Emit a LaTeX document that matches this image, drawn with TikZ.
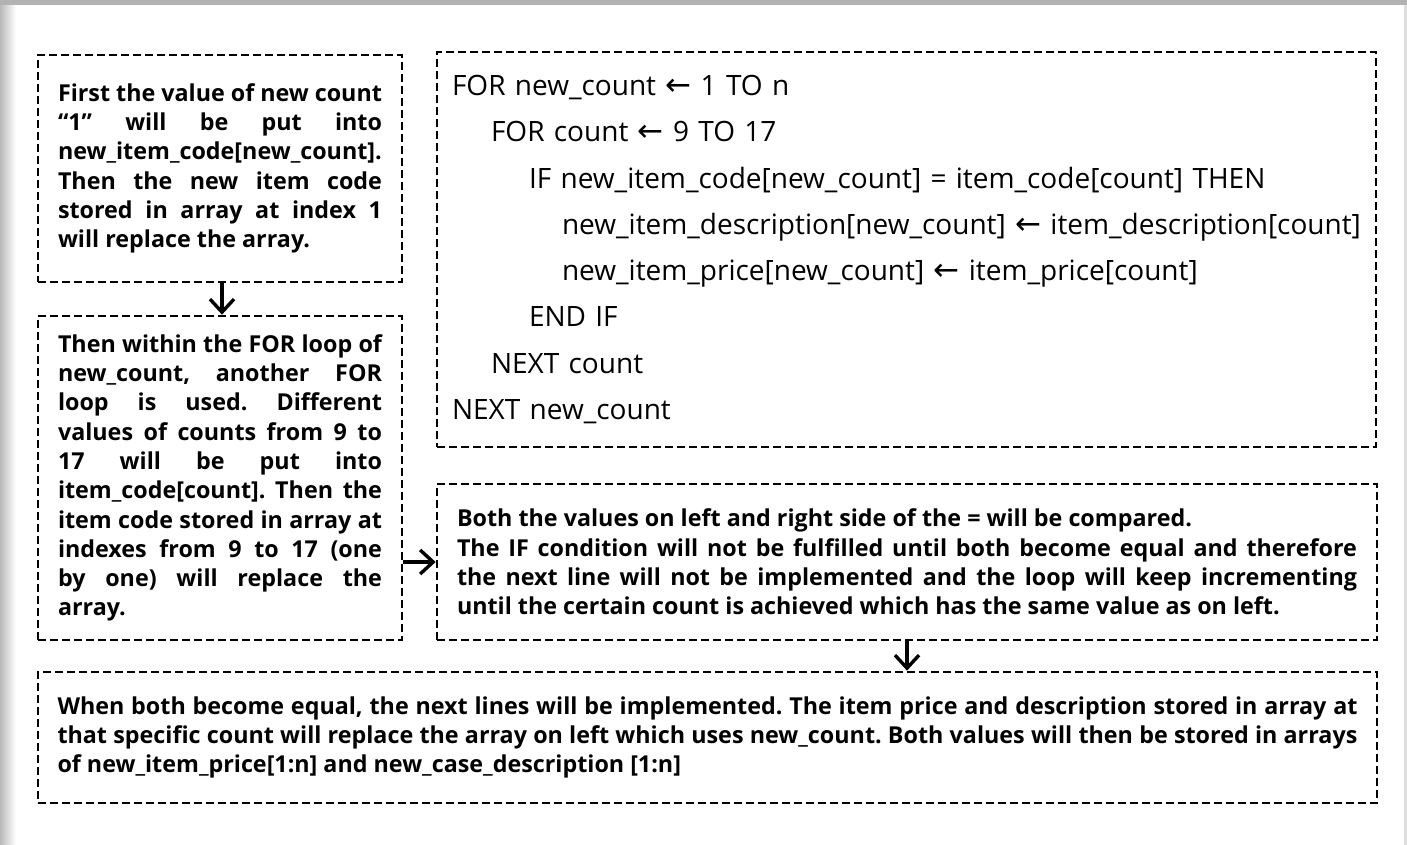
\documentclass[tikz,border=0pt]{standalone}
\usepackage{fontspec}
\setmainfont{Open Sans}
\newfontfamily\arrowfont{DejaVu Sans}
\newcommand{\larrow}{{\arrowfont\fontsize{31}{46.3}\selectfont ←}}
\usetikzlibrary{arrows.meta}

\begin{document}
\begin{tikzpicture}[
  x=1pt,y=-1pt,
  note/.style={draw,dash pattern=on 8pt off 4pt,line width=2.7pt,inner sep=0pt,align=justify,
    font=\bfseries\fontsize{23.3}{29.3}\selectfont,execute at begin node={\tolerance=10000\frenchspacing}},
  codebox/.style={draw,dash pattern=on 8pt off 4pt,line width=2.7pt,inner sep=0pt,align=left,
    font=\fontsize{28}{46.3}\selectfont},
  flow/.style={line width=3.4pt,-{Straight Barb[length=13pt,width=24pt]}}
]
  % page and window edge
  \useasboundingbox (0,0) rectangle (1407,845);
  \fill[white] (0,0) rectangle (1407,845);
  \shade[left color=gray!55,right color=white] (0,0) rectangle (16,845);
  \fill[gray!60] (0,0) rectangle (1407,5);
  \fill[gray!25] (1404,5) rectangle (1407,845);

  \node[note,minimum width=364pt,minimum height=227pt,text width=324pt] (first) at (220,168.5)
    {First the value of new count\linebreak
     “1” will be put into\linebreak
     new\_item\_code[new\_count].\linebreak
     Then the new item code\linebreak
     stored in array at index 1\linebreak
     will replace the array.};
  \node[note,minimum width=364pt,minimum height=324pt,text width=324pt] (inner) at (220,478)
    {Then within the FOR loop of\linebreak
     new\_count, another FOR\linebreak
     loop is used. Different\linebreak
     values of counts from 9 to\linebreak
     17 will be put into\linebreak
     item\_code[count]. Then the\linebreak
     item code stored in array at\linebreak
     indexes from 9 to 17 (one\linebreak
     by one) will replace the\linebreak
     array.};
  \node[codebox,minimum width=939pt,minimum height=395pt,text width=909pt] (code) at (906.5,249.5)
    {FOR new\_count \larrow{} 1 TO n\\
     \hspace*{39pt}FOR count \larrow{} 9 TO 17\\
     \hspace*{77pt}IF new\_item\_code[new\_count] = item\_code[count] THEN\\
     \hspace*{110pt}new\_item\_description[new\_count] \larrow{} item\_description[count]\\
     \hspace*{110pt}new\_item\_price[new\_count] \larrow{} item\_price[count]\\
     \hspace*{77pt}END IF\\
     \hspace*{39pt}NEXT count\\
     NEXT new\_count};
  \node[note,minimum width=940pt,minimum height=156pt,text width=900pt] (compare) at (907,562)
    {Both the values on left and right side of the = will be compared.\newline
     The IF condition will not be fulfilled until both become equal and therefore\linebreak
     the next line will not be implemented and the loop will keep incrementing\linebreak
     until the certain count is achieved which has the same value as on left.};
  \node[note,minimum width=1339pt,minimum height=131pt,text width=1300pt] (equal) at (707.5,737.5)
    {When both become equal, the next lines will be implemented. The item price and description stored in array at\linebreak
     that specific count will replace the array on left which uses new\_count. Both values will then be stored in arrays\linebreak
     of new\_item\_price[1:n] and new\_case\_description [1:n]};

  \draw[flow] (first.south -| 222,0) -- (inner.north -| 222,0);
  \draw[flow] (inner.east |- compare) -- (compare.west);
  \draw[flow] (compare.south) -- (compare.south |- equal.north);
\end{tikzpicture}
\end{document}
